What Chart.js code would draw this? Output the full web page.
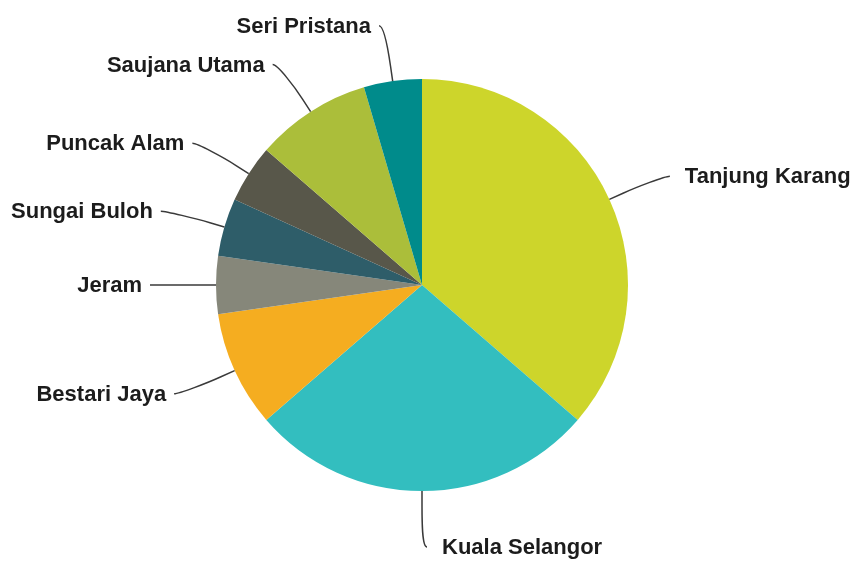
<!DOCTYPE html>
<html>
<head>
<meta charset="utf-8">
<script src="https://cdn.jsdelivr.net/npm/chart.js@4"></script>
<style>
  html, body { margin: 0; padding: 0; background: #fff; }
  #wrap { width: 855px; height: 562px; }
</style>
</head>
<body>
<div id="wrap"><canvas id="pieChart" width="855" height="562"></canvas></div>
<script>
const areas = ['Tanjung Karang', 'Kuala Selangor', 'Bestari Jaya', 'Jeram', 'Sungai Buloh', 'Puncak Alam', 'Saujana Utama', 'Seri Pristana'];
const counts = [8, 6, 2, 1, 1, 1, 2, 1];
const sliceColors = ['#cdd52b', '#33bebf', '#f5ad20', '#86877a', '#2e5d69', '#58574a', '#abbe3a', '#008b8b'];

// outside labels with soft connectors
const outsideLabels = {
  id: 'outsideLabels',
  afterDatasetsDraw(chart) {
    const ctx = chart.ctx;
    const meta = chart.getDatasetMeta(0);
    ctx.save();
    ctx.font = 'bold 22px "Liberation Sans", Arial, sans-serif';
    ctx.textBaseline = 'middle';
    meta.data.forEach((arc, i) => {
      const mid = (arc.startAngle + arc.endAngle) / 2;
      const cos = Math.cos(mid), sin = Math.sin(mid);
      const r = arc.outerRadius;
      const right = cos >= 0;
      const side = right ? 1 : -1;
      const lx = arc.x + cos * (r + 61);
      const ly = arc.y + sin * (r + 56);
      const tx = arc.x + cos * r, ty = arc.y + sin * r;
      const bx = arc.x + cos * (r + 15), by = arc.y + sin * (r + 15);

      ctx.beginPath();
      ctx.moveTo(lx + side * 5, ly);
      ctx.bezierCurveTo(lx, ly, 2 * bx - tx, 2 * by - ty, bx, by);
      ctx.lineTo(tx, ty);
      ctx.strokeStyle = '#3a3a3a';
      ctx.lineWidth = 1.5;
      ctx.stroke();

      ctx.fillStyle = '#1c1c1c';
      ctx.textAlign = right ? 'left' : 'right';
      ctx.fillText(areas[i], lx + side * (right ? 20 : 13), ly + 1);
    });
    ctx.restore();
  }
};

new Chart(document.getElementById('pieChart'), {
  type: 'pie',
  data: {
    labels: areas,
    datasets: [{
      data: counts,
      backgroundColor: sliceColors,
      borderWidth: 0
    }]
  },
  options: {
    responsive: false,
    animation: false,
    layout: { padding: { left: 216, right: 227, top: 79, bottom: 71 } },
    plugins: {
      legend: { display: false },
      tooltip: { enabled: false }
    }
  },
  plugins: [outsideLabels]
});
</script>
</body>
</html>
